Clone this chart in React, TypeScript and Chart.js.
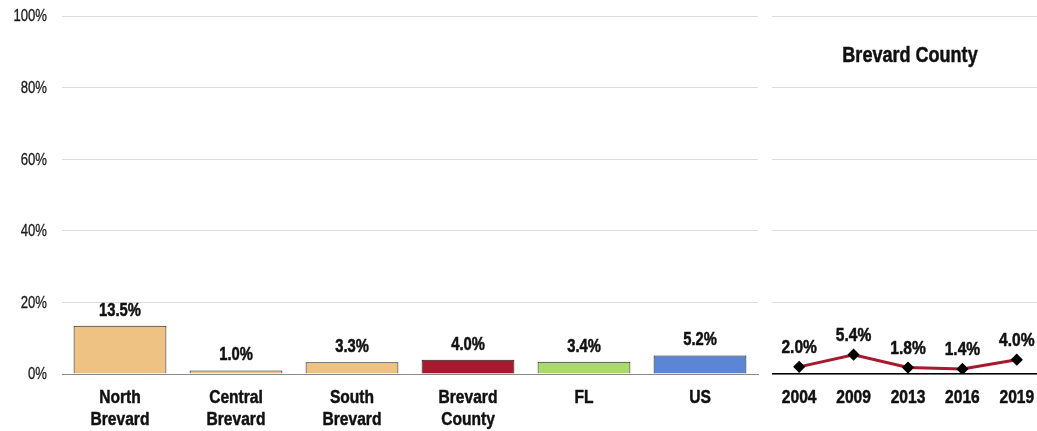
import { useEffect, useRef } from "react";
import { Chart, registerables } from "chart.js";

Chart.register(...registerables);

const FONT = "'Liberation Sans', Arial, sans-serif";
const NARROW = 0.82;

const barCategories: (string | string[])[] = [
  ["North", "Brevard"],
  ["Central", "Brevard"],
  ["South", "Brevard"],
  ["Brevard", "County"],
  "FL",
  "US",
];
const barValues = [13.5, 1.0, 3.3, 4.0, 3.4, 5.2];
const barColors = ["#EDC283", "#EDC283", "#EDC283", "#A6192E", "#A9DA6A", "#5B86D6"];

const trendYears = ["2004", "2009", "2013", "2016", "2019"];
const trendValues = [2.0, 5.4, 1.8, 1.4, 4.0];
const trendTitle = "Brevard County";

const yMin = 0;
const yMax = 100;
const yStep = 20;

function narrowText(
  ctx: CanvasRenderingContext2D,
  text: string,
  x: number,
  y: number,
  font: string,
  align: CanvasTextAlign,
  baseline: CanvasTextBaseline,
  color: string,
  stroke = 0
) {
  ctx.save();
  ctx.font = font;
  ctx.fillStyle = color;
  ctx.textAlign = align;
  ctx.textBaseline = baseline;
  ctx.translate(x, y);
  ctx.scale(NARROW, 1);
  ctx.fillText(text, 0, 0);
  if (stroke > 0) {
    ctx.strokeStyle = color;
    ctx.lineWidth = stroke;
    ctx.lineJoin = "round";
    ctx.strokeText(text, 0, 0);
  }
  ctx.restore();
}

const valueLabelPlugin = (offset: number, size: number) => ({
  id: "valueLabels",
  afterDatasetsDraw(chart: any) {
    const ctx = chart.ctx;
    chart.data.datasets.forEach((ds: any, di: number) => {
      const meta = chart.getDatasetMeta(di);
      meta.data.forEach((el: any, i: number) => {
        const v = ds.data[i] as number;
        narrowText(ctx, v.toFixed(1) + "%", el.x, el.y - offset, `bold ${size}px ${FONT}`, "center", "alphabetic", "#111", 0.5);
      });
    });
  },
});

const axisTextPlugin = (showY: boolean) => ({
  id: "axisText",
  afterDraw(chart: any) {
    const ctx = chart.ctx;
    const xs = chart.scales.x;
    const labels = chart.data.labels as (string | string[])[];
    labels.forEach((lab, i) => {
      const lines = Array.isArray(lab) ? lab : [lab];
      const x = xs.getPixelForTick(i);
      lines.forEach((ln, k) => {
        narrowText(ctx, ln, x, xs.top + 24 + k * 22, `bold 19px ${FONT}`, "center", "middle", "#111", 0.5);
      });
    });
    if (showY) {
      const ys = chart.scales.y;
      ys.ticks.forEach((t: any) => {
        const y = ys.getPixelForValue(t.value);
        narrowText(ctx, t.value + "%", ys.right - 15, y + 1, `16px ${FONT}`, "right", "middle", "#1a1a1a", 0.3);
      });
    }
  },
});

const titlePlugin = {
  id: "panelTitle",
  afterDraw(chart: any) {
    const area = chart.chartArea;
    narrowText(chart.ctx, trendTitle, (area.left + area.right) / 2 + 2, 56, `bold 22px ${FONT}`, "center", "middle", "#111", 0.5);
  },
};

export default function App() {
  const barRef = useRef<HTMLCanvasElement>(null);
  const lineRef = useRef<HTMLCanvasElement>(null);

  useEffect(() => {
    const bar = new Chart(barRef.current!, {
      type: "bar",
      data: {
        labels: barCategories,
        datasets: [
          {
            data: barValues,
            backgroundColor: barColors,
            borderColor: "#1a1a1a",
            borderWidth: 1,
            categoryPercentage: 1,
            barPercentage: 0.8,
          },
        ],
      },
      options: {
        animation: false,
        responsive: false,
        maintainAspectRatio: false,
        layout: { autoPadding: false, padding: { top: 16, right: 2, left: 0, bottom: 0 } },
        plugins: { legend: { display: false }, tooltip: { enabled: false } },
        scales: {
          x: {
            grid: { display: false, drawTicks: false },
            border: { display: true, color: "#8a8a8a", width: 1 },
            ticks: { display: false },
            afterFit: (s: any) => {
              s.height = 57;
            },
          },
          y: {
            min: yMin,
            max: yMax,
            grid: { color: "#dcdcdc", drawTicks: false, lineWidth: 1 },
            border: { display: false },
            ticks: { display: false, stepSize: yStep },
            afterFit: (s: any) => {
              s.width = 62;
            },
          },
        },
      },
      plugins: [valueLabelPlugin(10, 18), axisTextPlugin(true)],
    });

    const line = new Chart(lineRef.current!, {
      type: "line",
      data: {
        labels: trendYears,
        datasets: [
          {
            data: trendValues,
            borderColor: "#A6192E",
            borderWidth: 3,
            pointStyle: "rectRot",
            pointRadius: 4,
            pointBackgroundColor: "#000",
            pointBorderColor: "#000",
            tension: 0,
          },
        ],
      },
      options: {
        animation: false,
        responsive: false,
        maintainAspectRatio: false,
        layout: { autoPadding: false, padding: { top: 16, right: 0, left: 0, bottom: 0 } },
        plugins: { legend: { display: false }, tooltip: { enabled: false } },
        scales: {
          x: {
            offset: true,
            grid: { display: false, drawTicks: false },
            border: { display: true, color: "#000", width: 1.5 },
            ticks: { display: false },
            afterFit: (s: any) => {
              s.height = 57;
            },
          },
          y: {
            min: yMin,
            max: yMax,
            grid: { color: "#dcdcdc", drawTicks: false, lineWidth: 1 },
            border: { display: false },
            ticks: { display: false, stepSize: yStep },
            afterFit: (s: any) => {
              s.width = 0;
            },
          },
        },
      },
      plugins: [valueLabelPlugin(14, 19), titlePlugin, axisTextPlugin(false)],
    });

    return () => {
      bar.destroy();
      line.destroy();
    };
  }, []);

  return (
    <div
      style={{
        position: "fixed",
        left: 0,
        top: 0,
        width: 1037,
        height: 431,
        overflow: "hidden",
        background: "#fff",
      }}
    >
      <canvas
        ref={barRef}
        width={760}
        height={431}
        style={{ position: "absolute", left: 0, top: 0, width: 760, height: 431 }}
      />
      <canvas
        ref={lineRef}
        width={272}
        height={431}
        style={{ position: "absolute", left: 772, top: 0, width: 272, height: 431 }}
      />
    </div>
  );
}
